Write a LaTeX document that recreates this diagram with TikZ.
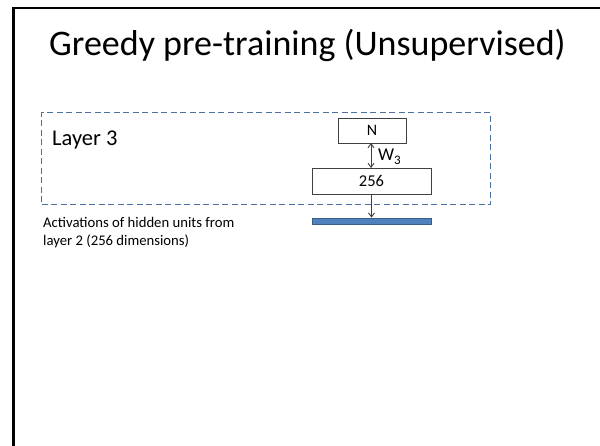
\documentclass[tikz,border=0pt]{standalone}
\usepackage{fontspec}
\setmainfont{Carlito}
\usetikzlibrary{arrows.meta}
\definecolor{dashblue}{RGB}{74,111,160}
\definecolor{barfill}{RGB}{79,129,189}
\definecolor{barline}{RGB}{56,93,138}
\definecolor{linegray}{RGB}{64,64,64}
\tikzset{
  unitbox/.style={draw=linegray, line width=0.9pt, fill=white, inner sep=0pt},
  conn/.style={draw=linegray, line width=0.9pt, -{Straight Barb[length=4pt,width=6pt]}},
  dconn/.style={draw=linegray, line width=0.9pt, {Straight Barb[length=4pt,width=6pt]}-{Straight Barb[length=4pt,width=6pt]}},
  txt/.style={inner sep=0pt, anchor=base west}
}
\begin{document}
\begin{tikzpicture}[x=1pt,y=-1pt]
\useasboundingbox (0,0) rectangle (600,445);
\fill[white] (0,0) rectangle (600,445);
% slide frame
\draw[line width=2.5pt, line cap=rect] (13.3,445) -- (13.3,7.8) -- (600,7.8);
% title
\node[txt] (title) at (49,55) {\fontsize{36}{42}\selectfont Greedy pre-training (Unsupervised)};
% dashed layer box
\node[draw=dashblue, dashed, dash pattern=on 6pt off 3.5pt, line width=1.4pt, minimum width=449pt, minimum height=92pt, inner sep=0pt, anchor=north west] (layer) at (41,112) {};
\node[txt] (lbl) at (52,145) {\fontsize{22.5}{26}\selectfont Layer 3};
% units
\node[unitbox, minimum width=68pt, minimum height=25pt] (N) at (372,130.5) {\fontsize{16}{18}\selectfont N};
\node[unitbox, minimum width=119pt, minimum height=26pt] (u256) at (371.5,181) {\fontsize{16.5}{18}\selectfont 256};
\node[draw=barline, fill=barfill, line width=0.8pt, minimum width=119pt, minimum height=6pt, inner sep=0pt] (bar) at (371.5,221) {};
% connectors
\draw[dconn] (371,143) -- (371,168);
\node[txt] (w3) at (378,160.5) {\fontsize{18}{20}\selectfont W\raisebox{-3.5pt}{\fontsize{13}{14}\selectfont 3}};
\draw[conn] (u256.south) -- (bar.north);
% caption
\node[txt, align=left] (cap) at (43,227) {\fontsize{14.7}{18}\selectfont Activations of hidden units from};
\node[txt, align=left] (cap2) at (43,245) {\fontsize{14.7}{18}\selectfont layer 2 (256 dimensions)};
\end{tikzpicture}
\end{document}
